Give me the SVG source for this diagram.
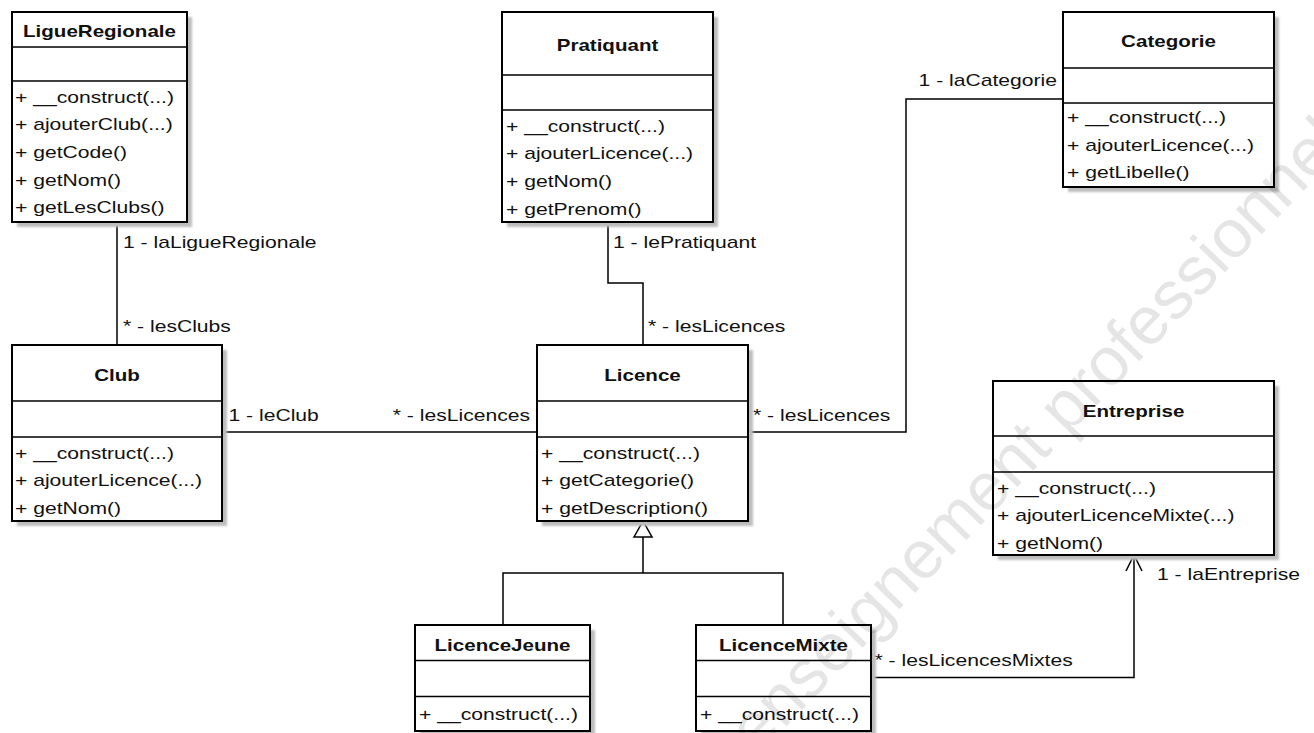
<svg xmlns="http://www.w3.org/2000/svg" width="1314" height="733" viewBox="0 0 1314 733">
<style>
.box{fill:#fff;stroke:#000;stroke-width:2}
.sh{fill:#bdbdbd;filter:url(#blur)}
.sep{stroke:#000;stroke-width:1.5}
.con{fill:none;stroke:#000;stroke-width:1.5}
text{font-family:"Liberation Sans",Arial,sans-serif;font-size:16px;fill:#111}
.n{font-weight:bold;text-anchor:middle}
.e{text-anchor:end}
.wm{font-family:"Liberation Sans",Arial,sans-serif;font-size:68px;fill:#000;fill-opacity:0.1}
</style>
<defs>
<filter id="blur" x="-5%" y="-5%" width="110%" height="110%"><feGaussianBlur stdDeviation="1.2"/></filter>
</defs>
<rect width="1314" height="733" fill="#fff"/>

<g id="connectors">
<path class="con" d="M117 222 V345"/>
<path class="con" d="M608 222 V283 H643 V345"/>
<path class="con" d="M1063 99 H906 V432 H748"/>
<path class="con" d="M222 432 H537"/>
<path class="con" d="M643 537 V573 M503 625 V573 H783 V625"/>
<path class="con" d="M634 537 L643 521 L652 537 Z" fill="#fff"/>
<path class="con" d="M871 677.5 H1134 V555 M1126 571 L1134 555 L1142 571"/>
<text transform="translate(123,248) scale(1.32,1)">1 - laLigueRegionale</text>
<text transform="translate(123,332) scale(1.32,1)">* - lesClubs</text>
<text transform="translate(613,248) scale(1.32,1)">1 - lePratiquant</text>
<text transform="translate(648,332) scale(1.32,1)">* - lesLicences</text>
<text transform="translate(228.5,421) scale(1.32,1)">1 - leClub</text>
<text class="e" transform="translate(530,421) scale(1.32,1)">* - lesLicences</text>
<text transform="translate(753,421) scale(1.32,1)">* - lesLicences</text>
<text class="e" transform="translate(1057,86) scale(1.32,1)">1 - laCategorie</text>
<text transform="translate(874.5,666) scale(1.32,1)">* - lesLicencesMixtes</text>
<text transform="translate(1157,580) scale(1.32,1)">1 - laEntreprise</text>
</g>

<g id="LigueRegionale">
<rect class="sh" x="17" y="17" width="175" height="210"/>
<rect class="box" x="12" y="12" width="175" height="210"/>
<path class="sep" d="M12 47 H187 M12 81 H187"/>
<text class="n" transform="translate(99.5,36.5) scale(1.285,1)">LigueRegionale</text>
<text transform="translate(15,102.5) scale(1.32,1)">+ __construct(...)</text>
<text transform="translate(15,130.2) scale(1.32,1)">+ ajouterClub(...)</text>
<text transform="translate(15,157.9) scale(1.32,1)">+ getCode()</text>
<text transform="translate(15,185.6) scale(1.32,1)">+ getNom()</text>
<text transform="translate(15,213.3) scale(1.32,1)">+ getLesClubs()</text>
</g>

<g id="Pratiquant">
<rect class="sh" x="507" y="17" width="211" height="210"/>
<rect class="box" x="502" y="12" width="211" height="210"/>
<path class="sep" d="M502 75 H713 M502 110 H713"/>
<text class="n" transform="translate(607.5,51) scale(1.285,1)">Pratiquant</text>
<text transform="translate(506,131.5) scale(1.32,1)">+ __construct(...)</text>
<text transform="translate(506,159.2) scale(1.32,1)">+ ajouterLicence(...)</text>
<text transform="translate(506,186.9) scale(1.32,1)">+ getNom()</text>
<text transform="translate(506,214.6) scale(1.32,1)">+ getPrenom()</text>
</g>

<g id="Categorie">
<rect class="sh" x="1068" y="17" width="211" height="175"/>
<rect class="box" x="1063" y="12" width="211" height="175"/>
<path class="sep" d="M1063 68 H1274 M1063 103 H1274"/>
<text class="n" transform="translate(1168.5,47) scale(1.285,1)">Categorie</text>
<text transform="translate(1067,123) scale(1.32,1)">+ __construct(...)</text>
<text transform="translate(1067,150.7) scale(1.32,1)">+ ajouterLicence(...)</text>
<text transform="translate(1067,178.4) scale(1.32,1)">+ getLibelle()</text>
</g>

<g id="Club">
<rect class="sh" x="17" y="350" width="210" height="176"/>
<rect class="box" x="12" y="345" width="210" height="176"/>
<path class="sep" d="M12 401 H222 M12 437 H222"/>
<text class="n" transform="translate(117,381) scale(1.285,1)">Club</text>
<text transform="translate(15,458.5) scale(1.32,1)">+ __construct(...)</text>
<text transform="translate(15,486.2) scale(1.32,1)">+ ajouterLicence(...)</text>
<text transform="translate(15,513.9) scale(1.32,1)">+ getNom()</text>
</g>

<g id="Licence">
<rect class="sh" x="542" y="350" width="211" height="176"/>
<rect class="box" x="537" y="345" width="211" height="176"/>
<path class="sep" d="M537 401 H748 M537 437 H748"/>
<text class="n" transform="translate(642.5,381) scale(1.285,1)">Licence</text>
<text transform="translate(541,458.5) scale(1.32,1)">+ __construct(...)</text>
<text transform="translate(541,486.2) scale(1.32,1)">+ getCategorie()</text>
<text transform="translate(541,513.9) scale(1.32,1)">+ getDescription()</text>
</g>

<g id="Entreprise">
<rect class="sh" x="998" y="386" width="281" height="174"/>
<rect class="box" x="993" y="381" width="281" height="174"/>
<path class="sep" d="M993 436 H1274 M993 472 H1274"/>
<text class="n" transform="translate(1133.5,416.5) scale(1.285,1)">Entreprise</text>
<text transform="translate(997,493.5) scale(1.32,1)">+ __construct(...)</text>
<text transform="translate(997,521.2) scale(1.32,1)">+ ajouterLicenceMixte(...)</text>
<text transform="translate(997,548.9) scale(1.32,1)">+ getNom()</text>
</g>

<g id="LicenceJeune">
<rect class="sh" x="420" y="630" width="175" height="106"/>
<rect class="box" x="415" y="625" width="175" height="106"/>
<path class="sep" d="M415 660.5 H590 M415 696.5 H590"/>
<text class="n" transform="translate(502.5,650.5) scale(1.285,1)">LicenceJeune</text>
<text transform="translate(419,720) scale(1.32,1)">+ __construct(...)</text>
</g>

<g id="LicenceMixte">
<rect class="sh" x="701" y="630" width="175" height="106"/>
<rect class="box" x="696" y="625" width="175" height="106"/>
<path class="sep" d="M696 660.5 H871 M696 696.5 H871"/>
<text class="n" transform="translate(783.5,650.5) scale(1.285,1)">LicenceMixte</text>
<text transform="translate(700,720) scale(1.32,1)">+ __construct(...)</text>
</g>

<text class="wm" transform="translate(757,757) rotate(-46)">enseignement professionnel</text>
</svg>
